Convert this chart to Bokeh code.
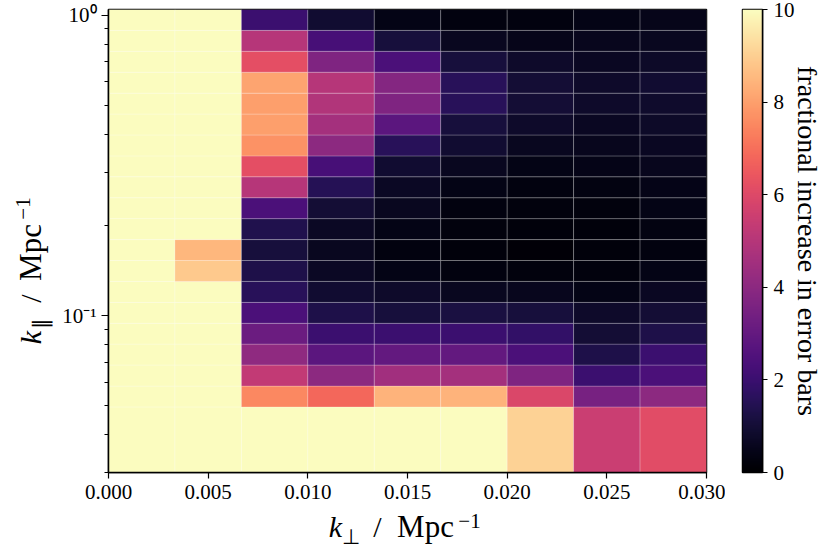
import numpy as np
from math import pi
from bokeh.plotting import figure
from bokeh.layouts import row, column
from bokeh.models import (ColumnDataSource, FixedTicker, PrintfTickFormatter,
                          CustomJSTickFormatter, LinearColorMapper, Label)
from bokeh.transform import linear_cmap
from bokeh.palettes import Magma256
from bokeh.embed import file_html
from bokeh.resources import INLINE

# ---------------- data ----------------
kperp_edges = [0.0, 0.003333, 0.006667, 0.01, 0.013333, 0.016667, 0.02,
               0.023333, 0.026667, 0.03]
kpar_edges = [0.02, 0.0496, 0.0582, 0.0684, 0.0803, 0.0942, 0.1106, 0.1299,
              0.1525, 0.1790, 0.2102, 0.2467, 0.2897, 0.3401, 0.3993, 0.4687,
              0.5503, 0.6461, 0.7585, 0.8905, 1.0454]
# fractional increase in error bars; rows from lowest k_par to highest
increase = [
    [10, 10, 10.0, 10.0, 10.0, 10.0, 9.1, 5.5, 6.1],
    [10, 10, 7.5, 6.8, 8.4, 8.4, 5.9, 3.5, 4.0],
    [10, 10, 5.3, 4.0, 4.5, 4.6, 3.7, 2.0, 2.4],
    [10, 10, 4.1, 2.8, 3.0, 3.0, 2.4, 1.3, 2.0],
    [10, 10, 3.2, 2.0, 2.0, 2.0, 1.8, 1.0, 1.3],
    [10, 10, 2.4, 1.3, 1.1, 1.2, 1.1, 0.8, 1.0],
    [10, 10, 1.6, 0.9, 0.8, 0.6, 0.55, 0.4, 0.65],
    [10, 8.9, 1.3, 0.7, 0.4, 0.3, 0.25, 0.25, 0.4],
    [10, 8.5, 1.1, 0.6, 0.3, 0.2, 0.15, 0.2, 0.3],
    [10, 10, 1.4, 0.7, 0.4, 0.25, 0.2, 0.2, 0.35],
    [10, 10, 2.4, 1.0, 0.6, 0.3, 0.25, 0.25, 0.4],
    [10, 10, 5.0, 1.5, 0.7, 0.4, 0.3, 0.35, 0.45],
    [10, 10, 6.2, 2.3, 0.9, 0.6, 0.4, 0.45, 0.55],
    [10, 10, 7.7, 4.0, 1.6, 0.9, 0.6, 0.55, 0.65],
    [10, 10, 8.0, 4.6, 2.8, 1.1, 0.8, 0.65, 0.75],
    [10, 10, 8.0, 4.9, 3.7, 1.6, 1.0, 0.8, 0.85],
    [10, 10, 8.1, 5.0, 3.8, 1.6, 1.0, 0.8, 0.9],
    [10, 10, 6.2, 3.7, 2.4, 1.1, 0.8, 0.65, 0.75],
    [10, 10, 5.0, 2.3, 1.1, 0.6, 0.5, 0.55, 0.6],
    [10, 10, 2.0, 0.9, 0.4, 0.3, 0.3, 0.4, 0.5],
]
x_ticks = [0.0, 0.005, 0.01, 0.015, 0.02, 0.025, 0.03]
y_major = [0.1, 1.0]
y_minor = [0.03, 0.04, 0.05, 0.06, 0.07, 0.08, 0.09,
           0.2, 0.3, 0.4, 0.5, 0.6, 0.7, 0.8, 0.9]
cbar_ticks = [0, 2, 4, 6, 8, 10]
cbar_title = "fractional increase in error bars"
vmin, vmax = 0, 10

FONT = "Liberation Serif"
TOP_H = 508      # height of the upper row (plot + colour bar)
XLAB_H = 555 - TOP_H
YLAB_W = 58
CB_W = 100
YSHIFT = 52      # empirical offset of rotated labels in the side figure


def blank(width, height):
    f = figure(width=width, height=height, x_range=(0, 1), y_range=(0, 1),
               output_backend="svg", toolbar_location=None, min_border=0,
               x_axis_location=None, y_axis_location=None)
    f.grid.visible = False
    f.outline_line_color = None
    return f


def lab(fig, x, y, text, size, style="normal", angle=0.0):
    # x, y: centre of the text box, in the figure's screen pixels (y from bottom)
    fig.add_layout(Label(x=x, y=y, x_units="screen", y_units="screen", text=text,
                         text_font=FONT, text_font_size=size, text_font_style=style,
                         text_color="black", angle=angle, text_align="center",
                         text_baseline="middle"))


# ---------------- cells ----------------
L, R, B, T, V = [], [], [], [], []
for i, rowvals in enumerate(increase):
    for j, v in enumerate(rowvals):
        L.append(kperp_edges[j]); R.append(kperp_edges[j + 1])
        B.append(kpar_edges[i]); T.append(kpar_edges[i + 1])
        V.append(v)
src = ColumnDataSource(dict(left=L, right=R, bottom=B, top=T, val=V))

p = figure(width=725 - YLAB_W, height=TOP_H, x_range=(0, 0.03), y_range=(0.03, 1.045),
           y_axis_type="log", output_backend="svg", toolbar_location=None,
           min_border_left=108 - YLAB_W, min_border_right=19, min_border_top=9,
           min_border_bottom=TOP_H - 472)
p.grid.visible = False
p.quad(left="left", right="right", bottom="bottom", top="top", source=src,
       fill_color=linear_cmap("val", Magma256, vmin, vmax),
       line_color="white", line_alpha=0.28, line_width=0.8)
p.outline_line_color = "black"
p.outline_line_width = 1.5
p.outline_line_alpha = 1.0

for ax in (p.xaxis[0], p.yaxis[0]):
    ax.axis_line_width = 1.5
    ax.major_tick_line_width = 1.2
    ax.minor_tick_line_width = 1.0
    ax.major_tick_in = 0
    ax.minor_tick_in = 0
    ax.major_label_text_font = FONT
    ax.major_label_text_font_size = "21px"
    ax.major_label_text_color = "black"

p.xaxis.ticker = FixedTicker(ticks=x_ticks)
p.xaxis.formatter = PrintfTickFormatter(format="%.3f")
p.xaxis.major_tick_out = 6
p.xaxis.minor_tick_line_color = None
p.xaxis.major_label_standoff = 6

p.yaxis.ticker = FixedTicker(ticks=y_major, minor_ticks=y_minor)
p.yaxis.formatter = CustomJSTickFormatter(
    code="const e = Math.round(Math.log10(tick)); return e == 0 ? '10\u2070' : '10\u207b\u00b9';")
p.yaxis.major_tick_out = 7
p.yaxis.minor_tick_out = 4
p.yaxis.major_label_standoff = 5

# ---------------- y-axis label: k_par / Mpc^-1 (targets in page pixels from top) ----------------
ylab = blank(YLAB_W, TOP_H)
def ylab_piece(cx, cy, text, size, style="normal"):
    lab(ylab, cx, TOP_H - cy - YSHIFT, text, size, style, angle=pi / 2)

ylab_piece(30, 321, "k", "30px", "italic")
ylab_piece(40, 307, "\u2225", "21px")
ylab_piece(30, 282, "/", "30px")
ylab_piece(30, 236, "Mpc", "31px")
ylab_piece(22, 192, "\u22121", "21px")

# ---------------- colour bar ----------------
p2 = figure(width=CB_W, height=TOP_H, x_range=(0, 1), y_range=(vmin, vmax),
            output_backend="svg", toolbar_location=None,
            x_axis_location=None, y_axis_location="right",
            min_border_left=17, min_border_right=CB_W - 17 - 26, min_border_top=9,
            min_border_bottom=TOP_H - 472)
p2.grid.visible = False
grad = np.linspace(vmin, vmax, 256).reshape(256, 1)
p2.image(image=[grad], x=0, y=vmin, dw=1, dh=vmax - vmin,
         color_mapper=LinearColorMapper(palette=Magma256, low=vmin, high=vmax))
p2.outline_line_color = "black"
p2.outline_line_width = 1.5
ax2 = p2.yaxis[0]
ax2.ticker = FixedTicker(ticks=cbar_ticks)
ax2.axis_line_width = 1.5
ax2.major_tick_line_width = 1.2
ax2.major_tick_in = 0
ax2.major_tick_out = 5
ax2.minor_tick_line_color = None
ax2.major_label_text_font = FONT
ax2.major_label_text_font_size = "21px"
ax2.major_label_text_color = "black"
ax2.major_label_standoff = 6
ax2.axis_label = cbar_title
ax2.axis_label_text_font = FONT
ax2.axis_label_text_font_size = "28px"
ax2.axis_label_text_font_style = "normal"
ax2.axis_label_text_color = "black"
ax2.axis_label_standoff = -6

# ---------------- x-axis label: k_perp / Mpc^-1 (targets in page pixels) ----------------
xlab = blank(825, XLAB_H)
def xlab_piece(cx, cy, text, size, style="normal"):
    lab(xlab, cx, 555 - cy, text, size, style)

xlab_piece(335, 526, "k", "30px", "italic")
xlab_piece(350, 536, "\u22a5", "21px")
xlab_piece(377, 526, "/", "30px")
xlab_piece(425, 526, "Mpc", "31px")
xlab_piece(469, 520, "\u22121", "21px")

layout = column(row(ylab, p, p2), xlab)
open("out.html", "w").write(file_html(layout, INLINE))
